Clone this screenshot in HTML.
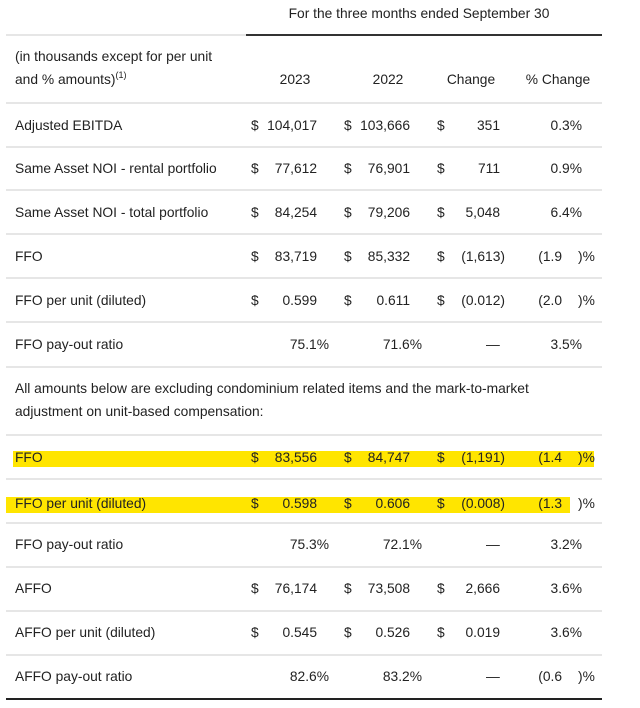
<!DOCTYPE html>
<html><head><meta charset="utf-8"><style>
body{margin:0;background:#fff;width:640px;height:708px;position:relative;overflow:hidden;font-family:"Liberation Sans",Arial,sans-serif;font-size:13.8px;color:#222}
.t{position:absolute;white-space:nowrap;line-height:16px}
.r{text-align:right}
.c{text-align:center}
.ln{position:absolute;height:2px;background:#e6e6e6}
.hl{position:absolute;background:#ffe500}
</style></head><body>
<div class="t c" style="left:279px;width:280px;top:6px">For the three months ended September 30</div>
<div class="ln" style="left:6px;width:240px;top:34px"></div>
<div class="ln" style="left:246px;width:356px;top:34px;background:#333;height:2px"></div>
<div class="t" style="left:15px;top:49px">(in thousands except for per unit</div>
<div class="t" style="left:15px;top:72px">and % amounts)<sup style="font-size:9px;vertical-align:6px;line-height:0">(1)</sup></div>
<div class="t c" style="left:265px;width:60px;top:72px">2023</div>
<div class="t c" style="left:358px;width:60px;top:72px">2022</div>
<div class="t c" style="left:436px;width:70px;top:72px">Change</div>
<div class="t c" style="left:518px;width:80px;top:72px">% Change</div>
<div class="hl" style="left:13px;width:581px;top:451px;height:16px"></div>
<div class="hl" style="left:6px;width:564px;top:497px;height:16px"></div>
<div class="t" style="left:15px;top:381px">All amounts below are excluding condominium related items and the mark-to-market</div>
<div class="t" style="left:15px;top:404px">adjustment on unit-based compensation:</div>
<div class="ln" style="left:6px;width:596px;top:698px;background:#222"></div>
<script>
const labels=["Adjusted EBITDA","Same Asset NOI - rental portfolio","Same Asset NOI - total portfolio","FFO","FFO per unit (diluted)","FFO pay-out ratio","FFO","FFO per unit (diluted)","FFO pay-out ratio","AFFO","AFFO per unit (diluted)","AFFO pay-out ratio"];
const v2023=["104,017","77,612","84,254","83,719","0.599","75.1%","83,556","0.598","75.3%","76,174","0.545","82.6%"];
const v2022=["103,666","76,901","79,206","85,332","0.611","71.6%","84,747","0.606","72.1%","73,508","0.526","83.2%"];
const vChange=["351","711","5,048","(1,613)","(0.012)","—","(1,191)","(0.008)","—","2,666","0.019","—"];
const vPct=["0.3%","0.9%","6.4%","(1.9|","(2.0|","3.5%","(1.4|","(1.3|","3.2%","3.6%","3.6%","(0.6|"];
const rowY=[118,161,205,249,293,337,450,496,537,581,625,669];
const sepY=[102,146,189,233,277,321,366,434,478,522,566,610,654];
sepY.forEach((y,i)=>{const d=document.createElement('div');d.className='ln';d.style.cssText=`left:6px;width:596px;top:${y}px`;


document.body.appendChild(d);});
function txt(s,x,y,cls,w){const d=document.createElement('div');d.className='t '+(cls||'');d.textContent=s;
if(cls==='r'){d.style.left=(x-w)+'px';d.style.width=w+'px';}else d.style.left=x+'px';
d.style.top=y+'px';document.body.appendChild(d);return d;}
labels.forEach((l,i)=>{const y=rowY[i];
let e=txt(l,15,y);


const ratio=v2023[i].endsWith('%');
if(ratio){
 e=txt(v2023[i],329,y,'r',80);
 e=txt(v2022[i],422,y,'r',80);
}else{
 e=txt('$',251,y);
 e=txt(v2023[i],317,y,'r',70);
 e=txt('$',344,y);
 e=txt(v2022[i],410,y,'r',70);
}
if(vChange[i]==='—'){e=txt('—',486,y);}
else{
 let t=txt('$',437,y);
 const paren=vChange[i].startsWith('(');
 e=txt(vChange[i],paren?505:500,y,'r',70);
}


if(vPct[i].endsWith('|')){
 e=txt(vPct[i].slice(0,-1),562,y,'r',60);
 let p=txt(')%',578,y);
}else e=txt(vPct[i],582,y,'r',60);


});
</script>
</body></html>
